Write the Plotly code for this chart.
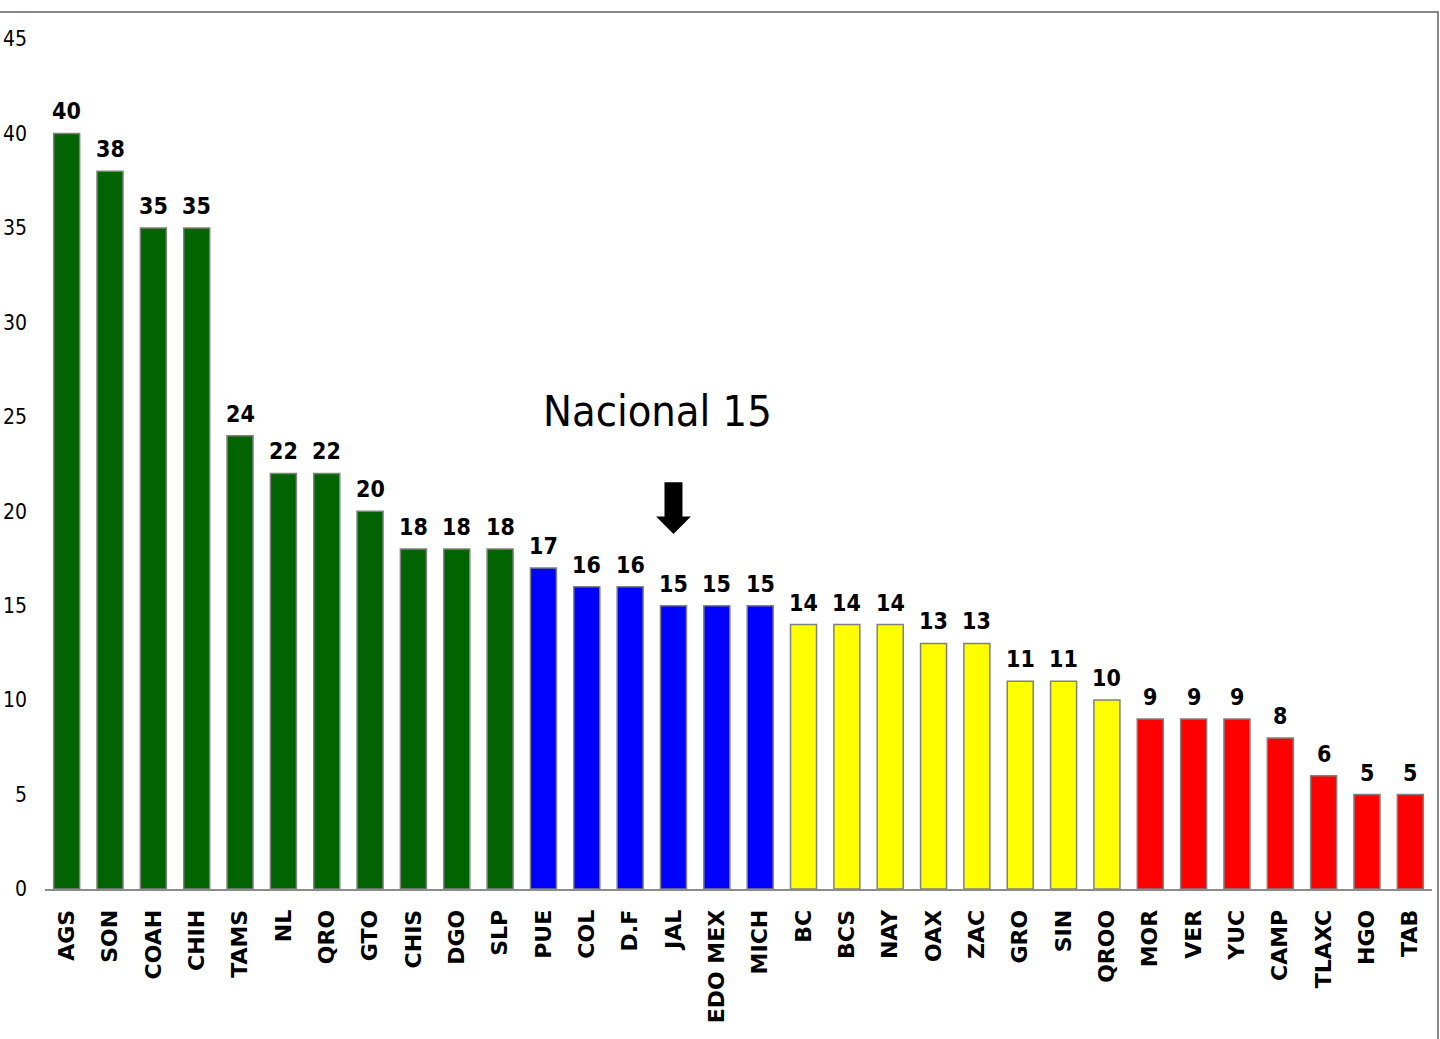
import plotly.graph_objects as go

states = ["AGS", "SON", "COAH", "CHIH", "TAMS", "NL", "QRO", "GTO", "CHIS", "DGO", "SLP",
          "PUE", "COL", "D.F", "JAL", "EDO MEX", "MICH",
          "BC", "BCS", "NAY", "OAX", "ZAC", "GRO", "SIN", "QROO",
          "MOR", "VER", "YUC", "CAMP", "TLAXC", "HGO", "TAB"]
values = [40, 38, 35, 35, 24, 22, 22, 20, 18, 18, 18,
          17, 16, 16, 15, 15, 15,
          14, 14, 14, 13, 13, 11, 11, 10,
          9, 9, 9, 8, 6, 5, 5]
groups = ["high"] * 11 + ["mid"] * 6 + ["low"] * 8 + ["vlow"] * 7
group_colors = {"high": "#006400", "mid": "#0000FF", "low": "#FFFF00", "vlow": "#FF0000"}
national_label = "Nacional 15"
national_state = "JAL"
y_ticks = [0, 5, 10, 15, 20, 25, 30, 35, 40, 45]

NARROW = "DejaVu Sans Condensed, Liberation Sans Narrow, sans-serif"

fig = go.Figure()
fig.add_trace(go.Bar(
    x=states,
    y=values,
    marker=dict(color=[group_colors[g] for g in groups],
                line=dict(color="#808080", width=1.5)),
    width=0.6,
    hoverinfo="x+y",
))

annotations = []
for s, v in zip(states, values):
    annotations.append(dict(
        x=s, y=v, xref="x", yref="y", text=str(v), showarrow=False,
        yanchor="bottom", yshift=7,
        font=dict(family=NARROW, size=23, color="black", weight="bold"),
    ))

# National label and arrow (thick shaft + separate head)
idx = states.index(national_state)
annotations.append(dict(
    x=idx - 0.37, y=25.3, xref="x", yref="y", text=national_label, showarrow=False,
    font=dict(family=NARROW, size=43, color="black"),
))
annotations.append(dict(
    x=national_state, y=19.6, xref="x", yref="y", text="", showarrow=True,
    ax=0, ay=-38, axref="pixel", ayref="pixel",
    arrowhead=0, arrowwidth=18, arrowcolor="black",
))
annotations.append(dict(
    x=national_state, y=18.8, xref="x", yref="y", text="", showarrow=True,
    ax=0, ay=-30, axref="pixel", ayref="pixel",
    arrowhead=1, arrowsize=2.9, arrowwidth=2, arrowcolor="black",
))

fig.update_layout(
    width=1440, height=1039,
    margin=dict(l=45, r=8, t=39, b=150, autoexpand=False),
    paper_bgcolor="white", plot_bgcolor="white",
    showlegend=False,
    annotations=annotations,
    shapes=[dict(
        type="path", xref="paper", yref="paper",
        path="M -0.05 1.0318 L 1.00433 1.0318 L 1.00433 -0.2",
        line=dict(color="#888888", width=2),
    )],
    xaxis=dict(
        type="category", showgrid=False, showline=True, linecolor="#8c8c8c", linewidth=2,
        ticks="", tickangle=-90, ticklabelstandoff=10, automargin=False,
        tickfont=dict(family="DejaVu Sans", size=22, color="black", weight="bold"),
        range=[-0.5, len(states) - 0.5],
    ),
    yaxis=dict(
        range=[0, 45], tickvals=y_ticks, showgrid=False, zeroline=False, showline=False,
        ticks="", ticklabelstandoff=17, automargin=False,
        tickfont=dict(family=NARROW, size=21, color="black"),
    ),
)

fig.write_html(
    "out.html",
    config={"displayModeBar": False},
    post_script="document.body.style.margin='0';document.body.style.overflow='hidden';",
)
